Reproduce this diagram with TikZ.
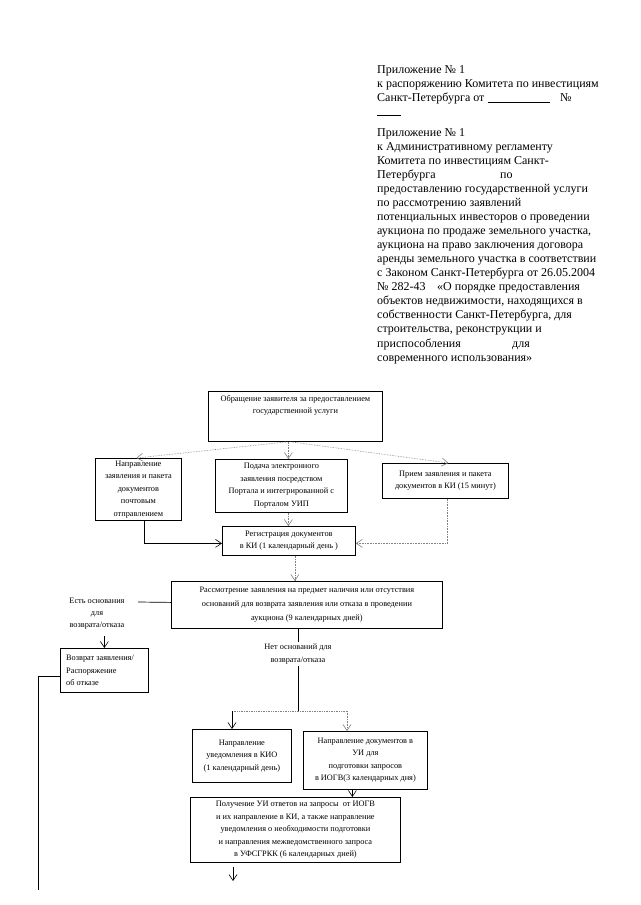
\documentclass[tikz,border=0pt]{standalone}
\usepackage{fontspec}
\setmainfont{Liberation Serif}
\usetikzlibrary{arrows.meta}
\begin{document}
\begin{tikzpicture}[x=1pt,y=-1pt,
  box/.style={draw, line width=0.8pt, inner sep=0pt, anchor=north west, align=center,
    font=\fontsize{8.3}{12.5}\selectfont},
  txt/.style={align=center, inner sep=0pt, font=\fontsize{8.3}{12.5}\selectfont},
  hdr/.style={align=left, anchor=north west, inner sep=0pt, font=\fontsize{12}{14.1}\selectfont},
  arr/.style={-{Straight Barb[length=6pt,width=8pt]}, line width=0.6pt},
  dotl/.style={densely dotted, line width=0.7pt, gray},
  sol/.style={line width=0.7pt},
]
\useasboundingbox[fill=white] (0,0) rectangle (640,905);

% header texts
\node[hdr] (h1) at (377,65) {Приложение № 1\\
к распоряжению Комитета по инвестициям\\
\makebox[111pt][l]{Санкт-Петербурга от}\rule[-1.5pt]{62pt}{0.5pt}\hspace{10pt}№\\
\rule{24pt}{0.5pt}};

\node[hdr, font=\fontsize{12}{14.06}\selectfont] (h2) at (377,128) {Приложение № 1\\
к Административному регламенту\\
Комитета по инвестициям Санкт-\\
\makebox[123pt][l]{Петербурга}по\\
предоставлению государственной услуги\\
по рассмотрению заявлений\\
потенциальных инвесторов о проведении\\
аукциона по продаже земельного участка,\\
аукциона на право заключения договора\\
аренды земельного участка в соответствии\\
с Законом Санкт-Петербурга от 26.05.2004\\
\makebox[60pt][l]{№ 282-43}«О порядке предоставления\\
объектов недвижимости, находящихся в\\
собственности Санкт-Петербурга, для\\
строительства, реконструкции и\\
\makebox[135pt][l]{приспособления}для\\
современного использования»};

% boxes
\node[box, minimum width=174, minimum height=50] (top) at (208,391) {};
\node[txt, anchor=north] (topt) at ([yshift=-4]top.north) {Обращение заявителя за предоставлением\\государственной услуги};

\node[box, minimum width=86, minimum height=62] (lb) at (95,458)
  {Направление\\заявления и пакета\\документов\\почтовым\\отправлением};
\node[box, minimum width=132, minimum height=53] (mb) at (215,459)
  {Подача электронного\\заявления посредством\\Портала и интегрированной с\\Порталом УИП};
\node[box, minimum width=126, minimum height=35] (rb) at (382,463)
  {Прием заявления и пакета\\документов в КИ (15 минут)};
\node[box, minimum width=133, minimum height=29] (reg) at (222,526)
  {Регистрация документов\\в КИ (1 календарный день )};
\node[box, minimum width=271, minimum height=47, font=\fontsize{8.3}{14}\selectfont] (rs) at (171,581)
  {Рассмотрение заявления на предмет наличия или отсутствия\\оснований для возврата заявления или отказа в проведении\\аукциона (9 календарных дней)};
\node[box, minimum width=88, minimum height=44] (vz) at (60,648) {};
\node[txt, align=left, anchor=west] (vzt) at ([xshift=6]vz.west)
  {Возврат заявления/\\Распоряжение\\об отказе};
\node[box, minimum width=99, minimum height=53] (kio) at (192,729)
  {Направление\\уведомления в КИО\\(1 календарный день)};
\node[box, minimum width=124, minimum height=58] (ud) at (303,731)
  {Направление документов в\\УИ для\\подготовки запросов\\в ИОГВ(3 календарных дня)};
\node[box, minimum width=210, minimum height=65] (pol) at (190,797)
  {Получение УИ ответов на запросы\ \ от ИОГВ\\и их направление в КИ, а также направление\\уведомления о необходимости подготовки\\и направления межведомственного запроса\\в УФСГРКК (6 календарных дней)};

% labels
\node[txt, font=\fontsize{8.3}{12}\selectfont] (yes) at (97,614) {Есть основания\\для\\возврата/отказа};
\node[txt] (no) at (298,654) {Нет оснований для\\возврата/отказа};

% coordinates
\coordinate (yesR) at (138,602);
\coordinate (fanc) at (298,711);
\coordinate (fl) at (232,711);
\coordinate (fr) at (347,711);
\coordinate (pend) at (233,881);
\coordinate (lend) at (38,890);

% fan from top box
\draw[dotl, arr] ([xshift=-8]top.south) -- ([xshift=-2]lb.north);
\draw[dotl, arr] ([xshift=-7]top.south) -- ([xshift=7]mb.north);
\draw[dotl, arr] ([xshift=-5]top.south) -- ([xshift=3]rb.north);

% into registration
\draw[sol, arr] ([xshift=6]lb.south) |- ([yshift=-2.5]reg.west);
\draw[dotl, arr] ([xshift=2]rb.south) |- ([yshift=-2.5]reg.east);
\draw[dotl, arr] ([xshift=7]mb.south) -- ([xshift=7]mb.south |- reg.north);
\draw[dotl, arr] ([xshift=6]reg.south) -- ([xshift=6]reg.south |- rs.north);

% refusal branch
\draw[sol] ([yshift=2.5]rs.west) -- (yesR);
\draw[sol, arr] ([yshift=-6]vz.north |- yes.south) -- (vz.north);
\draw[sol] ([yshift=-6]vz.west) -| (lend);

% no grounds branch
\draw[sol] (rs.south -| no.center) -- ([yshift=2]no.north);
\draw[sol] ([yshift=-2]no.south) -- (fanc);
\draw[dotl] (fl) -- (fr);
\draw[sol, arr] (fl) -- (fl |- kio.north);
\draw[dotl, arr] (fr) -- (fr |- ud.north);
\draw[sol, arr] ([xshift=-13]ud.south) -- ([xshift=-13]ud.south |- pol.north);
\draw[sol, arr] ([yshift=-4]pol.south -| pend) -- (pend);
\end{tikzpicture}
\end{document}
